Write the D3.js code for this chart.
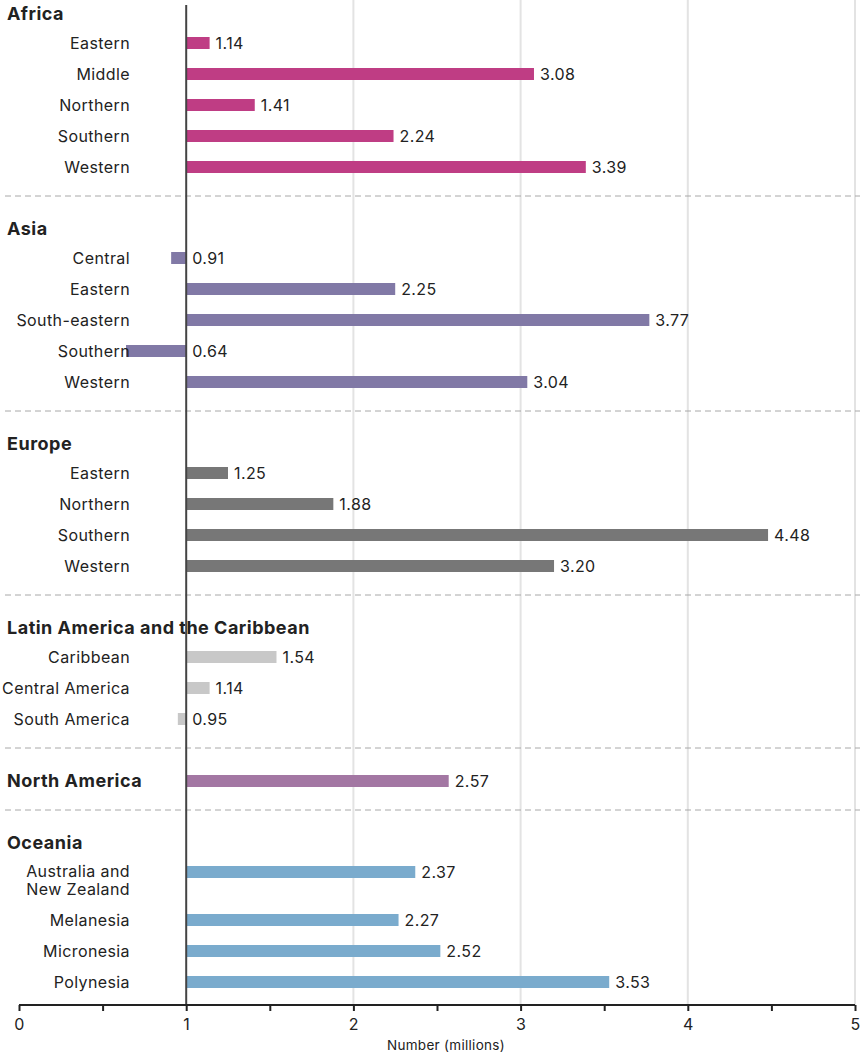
<!DOCTYPE html>
<html>
<head>
<meta charset="utf-8">
<script src="https://cdn.jsdelivr.net/npm/d3@7.9.0/dist/d3.min.js"></script>
<style>
  body { margin: 0; background: #fff; }
  svg text { font-family: Inter, "Open Sans", sans-serif; fill: #222; letter-spacing: 0.4px; }
</style>
</head>
<body>
<svg id="chart" width="865" height="1056"></svg>
<script>
// regions and their sub-regions, values in millions
const groups = ['Africa', 'Asia', 'Europe', 'Latin America and the Caribbean', 'North America', 'Oceania'];

const africaLabels = ['Eastern', 'Middle', 'Northern', 'Southern', 'Western'];
const africaValues = [1.14, 3.08, 1.41, 2.24, 3.39];

const asiaLabels = ['Central', 'Eastern', 'South-eastern', 'Southern', 'Western'];
const asiaValues = [0.91, 2.25, 3.77, 0.64, 3.04];

const europeLabels = ['Eastern', 'Northern', 'Southern', 'Western'];
const europeValues = [1.25, 1.88, 4.48, 3.20];

const latamLabels = ['Caribbean', 'Central America', 'South America'];
const latamValues = [1.54, 1.14, 0.95];

const northAmLabels = [''];          // single bar sits on the title row
const northAmValues = [2.57];

const oceaniaLabels = ['Australia and\nNew Zealand', 'Melanesia', 'Micronesia', 'Polynesia'];
const oceaniaValues = [2.37, 2.27, 2.52, 3.53];

const groupColors = ['#bf3d84', '#8179a6', '#777777', '#c8c8c8', '#a377a3', '#7aabcd'];
const xTicks = [0, 1, 2, 3, 4, 5];

const labelSets = [africaLabels, asiaLabels, europeLabels, latamLabels, northAmLabels, oceaniaLabels];
const valueSets = [africaValues, asiaValues, europeValues, latamValues, northAmValues, oceaniaValues];

const svg = d3.select('#chart');
const baseline = 1;   // bars grow out of 1 million
const axisY = 1005;
const textNudge = 2;

const x = d3.scaleLinear().domain([0, 5]).range([19, 855]);

// work out vertical slots: title, rows, dashed separator
let rows = [], titles = [], seps = [];
let cursor = 13;
groups.forEach((g, gi) => {
  titles.push({ name: g, y: cursor });
  const labs = labelSets[gi];
  let rowY = labs[0] === '' ? cursor + 1 : cursor + 30;
  labs.forEach((lab, i) => {
    if (i > 0) rowY += 31;
    rows.push({ group: gi, label: lab, value: valueSets[gi][i], y: rowY });
    if (lab.includes('\n')) rowY += 17;
  });
  if (gi < groups.length - 1) {
    seps.push(rowY + 29);
    cursor = rowY + 29 + 32;
  }
});

// gridlines
svg.append('g').selectAll('line')
  .data(xTicks.filter(d => d > 1))
  .join('line')
    .attr('x1', d => x(d)).attr('x2', d => x(d))
    .attr('y1', 0).attr('y2', axisY)
    .attr('stroke', '#e3e3e3').attr('stroke-width', 2);

// dashed separators
svg.append('g').selectAll('line')
  .data(seps)
  .join('line')
    .attr('x1', 5).attr('x2', 860)
    .attr('y1', d => d).attr('y2', d => d)
    .attr('stroke', '#a8a8a8').attr('stroke-dasharray', '6,4');

// bars
svg.append('g').selectAll('rect')
  .data(rows)
  .join('rect')
    .attr('x', d => x(Math.min(d.value, baseline)))
    .attr('width', d => Math.abs(x(d.value) - x(baseline)))
    .attr('y', d => d.y - 6)
    .attr('height', 12)
    .attr('fill', d => groupColors[d.group]);

// value labels
svg.append('g').selectAll('text')
  .data(rows)
  .join('text')
    .attr('x', d => (d.value < baseline ? x(baseline) : x(d.value)) + 6)
    .attr('y', d => d.y + textNudge)
    .attr('dominant-baseline', 'middle')
    .style('font-size', '16px')
    .text(d => d3.format('.2f')(d.value));

// category labels
svg.append('g').selectAll('text')
  .data(rows.filter(d => d.label !== ''))
  .join('text')
    .attr('text-anchor', 'end')
    .attr('x', 130)
    .attr('y', d => d.y + textNudge - (d.label.includes('\n') ? 1 : 0))
    .attr('dominant-baseline', 'middle')
    .style('font-size', '16px')
    .selectAll('tspan')
    .data(d => d.label.split('\n'))
    .join('tspan')
      .attr('x', 130)
      .attr('dy', (_, i) => i === 0 ? 0 : 18)
      .text(t => t);

// group titles
svg.append('g').selectAll('text')
  .data(titles)
  .join('text')
    .attr('x', 7)
    .attr('y', d => d.y + textNudge)
    .attr('dominant-baseline', 'middle')
    .style('font-size', '18px')
    .style('font-weight', 700)
    .style('letter-spacing', '0.5px')
    .text(d => d.name);

// vertical line at 1
svg.append('line')
  .attr('x1', x(baseline)).attr('x2', x(baseline))
  .attr('y1', 5).attr('y2', axisY)
  .attr('stroke', '#444').attr('stroke-width', 2);

// x axis
const axis = d3.axisBottom(x)
  .tickValues(d3.range(0, 5.01, 0.5))
  .tickSize(6)
  .tickFormat(d => Number.isInteger(d) ? d : '');
const ax = svg.append('g').attr('transform', `translate(0,${axisY})`).call(axis);
ax.select('.domain').attr('stroke', '#222').attr('stroke-width', 2).attr('d', `M${x(0)},0H${x(5)}`);
ax.selectAll('.tick line').attr('stroke', '#222').attr('stroke-width', 2);
ax.selectAll('.tick text').attr('y', 14).style('font-size', '16px')
  .style('font-family', 'Inter, sans-serif').attr('fill', '#222');

svg.append('text')
  .attr('x', 446).attr('y', 1050)
  .attr('text-anchor', 'middle')
  .style('font-size', '13.5px')
  .style('letter-spacing', '0.3px')
  .text('Number (millions)');
</script>
</body>
</html>
